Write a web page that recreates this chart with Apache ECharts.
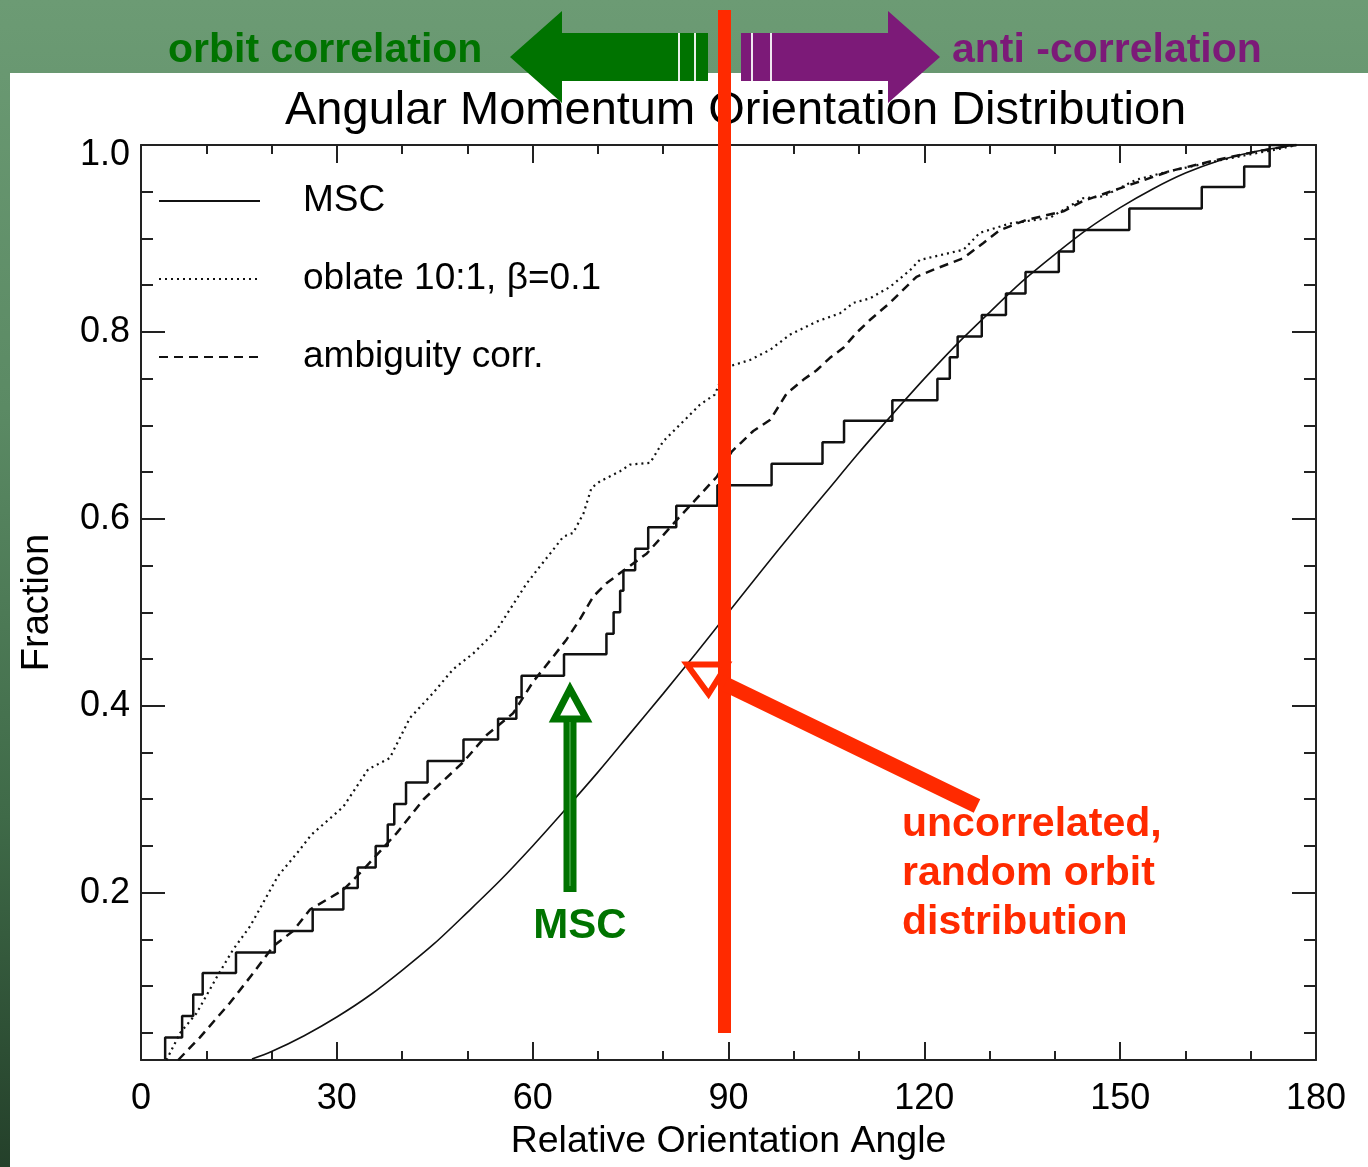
<!DOCTYPE html>
<html>
<head>
<meta charset="utf-8">
<script src="https://cdn.jsdelivr.net/npm/echarts@6/dist/echarts.min.js"></script>
<style>html,body{margin:0;padding:0;}#c{width:1368px;height:1167px;}</style>
</head>
<body>
<div id="c"></div>
<script>
// ---- data ----
var xTicks = [0, 30, 60, 90, 120, 150, 180];
var yMajorTicks = [0.2, 0.4, 0.6, 0.8, 1.0];
var yMinorTicks = [0.05, 0.1, 0.15, 0.25, 0.3, 0.35, 0.45, 0.5, 0.55, 0.65, 0.7, 0.75, 0.85, 0.9, 0.95];
var seriesNames = ['MSC', 'oblate 10:1, \u03b2=0.1', 'ambiguity corr.', 'random orbit'];

// MSC cumulative step: [angle where step occurs, new fraction]
var mscSteps = [[3.7,0.022],[3.7,0.045],[6.3,0.068],[8.0,0.091],[9.45,0.114],[14.55,0.136],[20.5,0.159],[26.3,0.182],
  [31.0,0.205],[33.2,0.227],[35.95,0.250],[37.8,0.273],[38.8,0.295],[40.6,0.318],[43.9,0.341],[49.4,0.364],
  [54.7,0.386],[57.5,0.409],[58.3,0.432],[64.8,0.455],[71.3,0.477],[72.4,0.500],[73.4,0.523],[73.9,0.545],
  [75.7,0.568],[77.7,0.591],[82.0,0.614],[88.3,0.636],[96.6,0.659],[104.4,0.682],[107.7,0.705],[115.1,0.727],
  [122.0,0.750],[123.9,0.773],[125.1,0.795],[128.8,0.818],[132.5,0.841],[135.5,0.864],[140.6,0.886],[142.9,0.909],
  [151.4,0.932],[162.5,0.955],[169.0,0.977],[172.9,1.0],[177,1.0]];

var oblate = [[3.9,0.021],[6.0,0.050],[8.5,0.071],[11.8,0.112],[14.1,0.139],[16.7,0.164],[21.0,0.218],[24.1,0.244],
  [26.1,0.262],[31.0,0.292],[34.8,0.332],[38.1,0.344],[41.2,0.387],[44.8,0.414],[47.8,0.439],[50.9,0.456],
  [54.5,0.481],[56.5,0.503],[59.1,0.531],[61.1,0.549],[62.7,0.563],[64.7,0.581],[66.2,0.585],[67.8,0.606],
  [69.0,0.633],[70.3,0.640],[73.4,0.651],[74.9,0.658],[78.0,0.660],[80.0,0.683],[83.6,0.708],[85.6,0.722],
  [87.9,0.733],[88.6,0.745],[90.5,0.764],[93.3,0.770],[96.4,0.781],[99.4,0.797],[103.5,0.811],[107.1,0.820],
  [109.1,0.831],[111.7,0.836],[114.7,0.848],[117.8,0.866],[119.3,0.877],[126.0,0.888],[128.5,0.906],[133.1,0.916],
  [139.2,0.922],[144.3,0.943],[147.4,0.945],[152.5,0.963],[157.6,0.972],[164.8,0.983],[169.9,0.990],[174.5,0.996],[177,1.0]];

var ambiguity = [[5.7,0.021],[9.0,0.045],[13.6,0.082],[17.2,0.114],[20.3,0.143],[23.3,0.159],[25.9,0.182],[31.0,0.203],
  [34.1,0.225],[39.2,0.264],[43.3,0.300],[49.4,0.340],[53.0,0.369],[57.0,0.392],[60.1,0.426],[63.2,0.453],
  [65.2,0.471],[67.2,0.492],[69.3,0.517],[71.3,0.531],[73.4,0.542],[77.5,0.563],[82.1,0.599],[88.2,0.645],
  [90.5,0.672],[93.8,0.694],[96.4,0.706],[98.9,0.734],[101.5,0.749],[103.5,0.759],[105.5,0.772],[107.6,0.783],
  [109.6,0.799],[111.7,0.813],[114.7,0.831],[118.8,0.859],[121.9,0.868],[126.0,0.879],[129.0,0.895],[131.6,0.909],
  [135.7,0.920],[141.3,0.929],[144.3,0.940],[150.5,0.955],[157.6,0.972],[164.8,0.984],[170.9,0.993],[175,0.998],[177,1.0]];

var randomOrbit = [[17,0.022],[20,0.030],[25,0.047],[30,0.067],[35,0.090],[40,0.117],[45,0.146],[50,0.179],[55,0.213],
  [60,0.250],[65,0.289],[70,0.329],[75,0.371],[80,0.413],[85,0.456],[90,0.500],[95,0.544],[100,0.587],[105,0.629],
  [110,0.671],[115,0.711],[120,0.750],[125,0.787],[130,0.821],[135,0.854],[140,0.883],[145,0.910],[150,0.933],
  [155,0.953],[160,0.970],[165,0.983],[170,0.992],[175,0.998],[177,1.0]];

// ---- chart ----
var FONT = '"Liberation Sans", Arial, Helvetica, sans-serif';
var AX = '#222';
var GREEN = '#007300', PURPLE = '#7c1a78', RED = '#ff2a00';
var chart = echarts.init(document.getElementById('c'), null, {renderer: 'canvas'});

function yAxisDef(pos, ticks, len, withLabel, withLine) {
  return {
    type: 'value', min: 0.021, max: 1.0, position: pos,
    axisLine: {show: withLine, lineStyle: {color: AX, width: 2}},
    axisTick: {show: true, inside: true, length: len, customValues: ticks, lineStyle: {color: AX, width: 2}},
    axisLabel: withLabel ? {show: true, customValues: yMajorTicks, margin: 11, color: '#000', fontSize: 36,
      fontFamily: FONT,
      formatter: function (v) { return v >= 0.999 ? '{top|' + v.toFixed(1) + '}' : v.toFixed(1); },
      rich: {top: {fontSize: 36, fontFamily: FONT, color: '#000', padding: [20, 0, 0, 0]}}} : {show: false},
    splitLine: {show: false},
    name: withLabel ? 'Fraction' : '', nameLocation: 'middle', nameGap: 84, nameRotate: 90,
    nameTextStyle: {color: '#000', fontSize: 38, fontFamily: FONT}
  };
}
function xAxisDef(pos, withLabel) {
  return {
    type: 'value', min: 0, max: 180, interval: 30, position: pos,
    axisLine: {show: true, onZero: false, lineStyle: {color: AX, width: 2}},
    axisTick: {show: true, inside: true, length: 18, lineStyle: {color: AX, width: 2}},
    minorTick: {show: true, splitNumber: 3, length: 9, lineStyle: {color: AX, width: 2}},
    axisLabel: withLabel ? {show: true, margin: 21, color: '#000', fontSize: 36, fontFamily: FONT,
      customValues: xTicks} : {show: false},
    splitLine: {show: false}, minorSplitLine: {show: false},
    name: withLabel ? 'Relative Orientation Angle' : '', nameLocation: 'middle', nameGap: 63,
    nameTextStyle: {color: '#000', fontSize: 37.5, fontFamily: FONT}
  };
}

var option = {
  backgroundColor: {type: 'linear', x: 0, y: 0, x2: 0, y2: 1, colorStops: [
    {offset: 0, color: '#6c9b74'}, {offset: 0.35, color: '#5b8a64'}, {offset: 0.7, color: '#3f6a48'}, {offset: 1, color: '#24402a'}]},
  animation: false,
  title: {text: 'Angular Momentum Orientation Distribution', left: 280, top: 83,
    textStyle: {color: '#000', fontSize: 47, fontWeight: 'normal', fontFamily: FONT}},
  grid: {left: 141, right: 52, top: 145, bottom: 107, containLabel: false},
  legend: {
    orient: 'vertical', left: 158, top: 181, padding: 0, itemWidth: 101, itemHeight: 20, itemGap: 38,
    data: seriesNames.slice(0, 3), selectedMode: false,
    itemStyle: {opacity: 0},
    textStyle: {color: '#000', fontSize: 37, fontFamily: FONT, lineHeight: 40, padding: [0, 0, 0, 38]}
  },
  xAxis: [xAxisDef('bottom', true), xAxisDef('top', false)],
  yAxis: [yAxisDef('left', yMajorTicks, 24, true, true), yAxisDef('left', yMinorTicks, 12, false, false),
          yAxisDef('right', yMajorTicks, 24, false, true), yAxisDef('right', yMinorTicks, 12, false, false)],
  series: [
    {name: seriesNames[0], type: 'line', step: 'end', data: mscSteps, symbol: 'none', z: 3,
      lineStyle: {color: '#111', width: 2.5, type: 'solid'}, itemStyle: {color: '#111'}},
    {name: seriesNames[1], type: 'line', data: oblate, symbol: 'none', z: 3,
      lineStyle: {color: '#111', width: 2.2, type: [2, 4]}, itemStyle: {color: '#111'}},
    {name: seriesNames[2], type: 'line', data: ambiguity, symbol: 'none', z: 3,
      lineStyle: {color: '#111', width: 2.5, type: [9, 6]}, itemStyle: {color: '#111'}},
    {name: seriesNames[3], type: 'line', data: randomOrbit, symbol: 'none', smooth: 0.3, z: 3,
      lineStyle: {color: '#111', width: 1.6, type: 'solid'}, itemStyle: {color: '#111'}}
  ],
  graphic: [
    {type: 'rect', z: -10, shape: {x: 10, y: 73, width: 1358, height: 1094}, style: {fill: '#fff'}},
    // top arrows
    {type: 'polygon', z: 50, shape: {points: [[510,57],[562,11],[562,33],[708,33],[708,81],[562,81],[562,103]]}, style: {fill: GREEN}},
    {type: 'rect', z: 51, shape: {x: 678, y: 33, width: 2, height: 48}, style: {fill: '#e8f0e8'}},
    {type: 'rect', z: 51, shape: {x: 694, y: 33, width: 2, height: 48}, style: {fill: '#e8f0e8'}},
    {type: 'polygon', z: 50, shape: {points: [[741,33],[888,33],[888,11],[940,57],[888,103],[888,81],[741,81]]}, style: {fill: PURPLE}},
    {type: 'rect', z: 51, shape: {x: 751, y: 33, width: 2, height: 48}, style: {fill: '#f0e8f0'}},
    {type: 'rect', z: 51, shape: {x: 770, y: 33, width: 2, height: 48}, style: {fill: '#f0e8f0'}},
    {type: 'text', z: 50, style: {text: 'orbit correlation', x: 168, y: 51, fill: GREEN, font: 'bold 41px ' + FONT, verticalAlign: 'middle', align: 'left'}},
    {type: 'text', z: 50, style: {text: 'anti -correlation', x: 952, y: 51, fill: PURPLE, font: 'bold 41px ' + FONT, verticalAlign: 'middle', align: 'left'}},
    // red vertical marker
    {type: 'rect', z: 52, shape: {x: 718, y: 10, width: 13, height: 1023}, style: {fill: RED}},
    {type: 'line', z: 52, shape: {x1: 725, y1: 684, x2: 977, y2: 806}, style: {stroke: RED, lineWidth: 15}},
    {type: 'polygon', z: 52, shape: {points: [[687,664.5],[727,664.5],[708.5,694]]}, style: {fill: null, stroke: RED, lineWidth: 6}},
    {type: 'text', z: 52, style: {text: 'uncorrelated,', x: 902, y: 825, fill: RED, font: 'bold 41px ' + FONT, verticalAlign: 'middle'}},
    {type: 'text', z: 52, style: {text: 'random orbit', x: 902, y: 874, fill: RED, font: 'bold 41px ' + FONT, verticalAlign: 'middle'}},
    {type: 'text', z: 52, style: {text: 'distribution', x: 902, y: 923, fill: RED, font: 'bold 41px ' + FONT, verticalAlign: 'middle'}},
    // green MSC arrow
    {type: 'rect', z: 52, shape: {x: 563.5, y: 716, width: 13, height: 176}, style: {fill: GREEN}},
    {type: 'rect', z: 53, shape: {x: 569.3, y: 722, width: 1.4, height: 164}, style: {fill: '#4aa84a'}},
    {type: 'polygon', z: 52, shape: {points: [[570,689],[554.5,719],[586.5,719]]}, style: {fill: null, stroke: GREEN, lineWidth: 7}},
    {type: 'text', z: 52, style: {text: 'MSC', x: 580, y: 926, fill: GREEN, font: 'bold 42px ' + FONT, verticalAlign: 'middle', align: 'center'}}
  ]
};
chart.setOption(option);
</script>
</body>
</html>
